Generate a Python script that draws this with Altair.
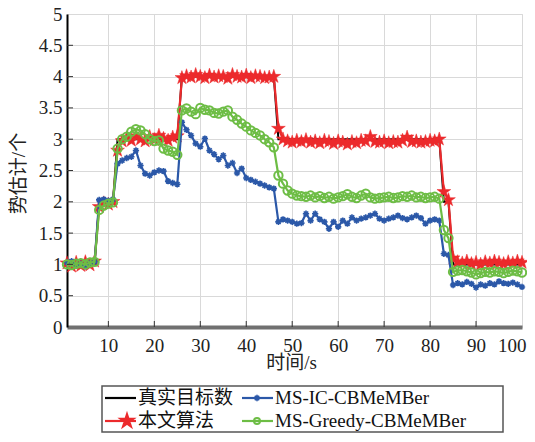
import altair as alt
import pandas as pd

# ---------------- data ----------------
time_s = list(range(1, 101))

truth = [1] * 7 + [2] * 4 + [3] * 14 + [4] * 21 + [3] * 36 + [2] * 2 + [1] * 16

proposed = (  # 本文算法
    [1.02, 0.97, 1.03, 0.98, 1.04, 0.99, 1.05]
    + [1.92, 1.98, 1.96, 2.0]
    + [2.82, 2.97, 3.02, 2.98, 3.05, 3.0, 2.97, 3.04, 2.99, 3.06, 3.01, 2.98, 3.03, 3.05]
    + [3.98, 4.01, 3.99, 4.03, 4.0, 3.98, 4.02, 3.99, 4.01, 4.0, 3.97, 4.03, 4.0, 3.99,
       4.02, 3.98, 4.01, 4.0, 3.98, 3.99, 4.0]
    + [3.17, 3.0, 2.97, 2.95, 2.98, 2.96, 2.99, 2.95, 2.97, 2.94, 2.98, 2.96, 2.93, 2.97,
       2.95, 2.92, 2.96, 2.94, 2.98, 2.97, 3.04, 2.96, 2.95, 2.97, 2.94, 2.96, 2.95, 2.98,
       3.03, 2.96, 2.97, 2.95, 2.96, 2.98, 2.97, 3.0]
    + [2.16, 2.03]
    + [1.1, 1.04, 1.02, 1.05, 1.01, 1.03, 1.0, 1.04, 1.02, 1.05, 1.03, 1.01, 1.04, 1.02,
       1.05, 1.03]
)

ms_ic = (  # MS-IC-CBMeMBer
    [1.03, 1.05, 0.98, 1.01, 0.97, 1.02, 1.04]
    + [2.03, 2.04, 2.02, 2.04]
    + [2.61, 2.66, 2.70, 2.72, 2.82, 2.58, 2.45, 2.42, 2.47, 2.50, 2.49, 2.33, 2.30, 2.28]
    + [3.27, 3.15, 3.06, 2.93, 2.88, 3.01, 2.82, 2.76, 2.68, 2.74, 2.58, 2.62, 2.46, 2.53,
       2.38, 2.35, 2.32, 2.29, 2.26, 2.23, 2.21]
    + [1.68, 1.72, 1.70, 1.68, 1.65, 1.66, 1.81, 1.70, 1.81, 1.72, 1.68, 1.57, 1.68, 1.60,
       1.70, 1.65, 1.75, 1.70, 1.73, 1.75, 1.78, 1.81, 1.73, 1.70, 1.73, 1.75, 1.78, 1.74,
       1.72, 1.75, 1.78, 1.74, 1.65, 1.70, 1.72, 1.70]
    + [1.17, 1.15]
    + [0.67, 0.70, 0.68, 0.72, 0.69, 0.63, 0.68, 0.66, 0.70, 0.68, 0.73, 0.70, 0.69, 0.71,
       0.68, 0.64]
)

ms_greedy = (  # MS-Greedy-CBMeMBer
    [1.0, 0.99, 1.01, 1.02, 1.0, 1.03, 1.04]
    + [1.87, 1.94, 1.97, 1.99]
    + [2.85, 3.0, 3.04, 3.12, 3.16, 3.14, 3.08, 3.0, 2.97, 2.98, 2.85, 2.82, 2.80, 2.75]
    + [3.46, 3.49, 3.44, 3.40, 3.50, 3.47, 3.46, 3.42, 3.41, 3.44, 3.46, 3.36, 3.31, 3.25,
       3.20, 3.14, 3.10, 3.06, 3.00, 2.95, 2.87]
    + [2.42, 2.29, 2.18, 2.13, 2.10, 2.09, 2.08, 2.10, 2.07, 2.09, 2.06, 2.08, 2.05, 2.07,
       2.09, 2.12, 2.08, 2.06, 2.10, 2.13, 2.07, 2.05, 2.06, 2.07, 2.08, 2.06, 2.07, 2.09,
       2.08, 2.10, 2.07, 2.08, 2.06, 2.07, 2.08, 2.05]
    + [1.55, 1.42]
    + [0.88, 0.90, 0.91, 0.89, 0.87, 0.84, 0.86, 0.88, 0.87, 0.89, 0.88, 0.86, 0.88, 0.90,
       0.89, 0.87]
)

series_keys = ["truth", "proposed", "ms_ic", "ms_greedy"]
legend_labels = ["真实目标数", "本文算法", "MS-IC-CBMeMBer", "MS-Greedy-CBMeMBer"]
x_tick_values = [10, 20, 30, 40, 50, 60, 70, 80, 90, 100]
y_tick_values = [0, 0.5, 1, 1.5, 2, 2.5, 3, 3.5, 4, 4.5, 5]

for s in (truth, proposed, ms_ic, ms_greedy):
    assert len(s) == 100, len(s)

rows = []
for key, vals in zip(series_keys, [truth, proposed, ms_ic, ms_greedy]):
    for t, v in zip(time_s, vals):
        rows.append({"t": t, "value": v, "series": key})
df = pd.DataFrame(rows)

# ---------------- styles ----------------
W, H = 455, 313
FONT = "Liberation Serif, Noto Sans CJK SC"
COL = {"truth": "#000000", "proposed": "#ec2a2c", "ms_ic": "#2b58a8", "ms_greedy": "#6dbd45"}
STAR = ("M0,-1L0.2245,-0.309L0.951,-0.309L0.363,0.118L0.588,0.809L0,0.382"
        "L-0.588,0.809L-0.363,0.118L-0.951,-0.309L-0.2245,-0.309Z")
ASTER = "M-1,0H1M0,-1V1M-0.7,-0.7L0.7,0.7M-0.7,0.7L0.7,-0.7"

X = alt.X("t:Q", scale=alt.Scale(domain=[1, 100], nice=False, zero=False),
          axis=alt.Axis(values=x_tick_values, title="时间/s", format="d",
                        grid=True, gridColor="#d9d9d9", gridWidth=1,
                        ticks=False, tickSize=0, labelPadding=9,
                        labelFlush=True, labelFlushOffset=4,
                        labelFont=FONT, labelFontSize=19, labelColor="#222",
                        titleFont=FONT, titleFontSize=19, titleFontWeight="normal",
                        titleColor="#222", titleX=224, titleY=35, titleBaseline="middle",
                        domainColor="#707070", domainWidth=4))
Y = alt.Y("value:Q", scale=alt.Scale(domain=[0, 5], nice=False),
          axis=alt.Axis(values=y_tick_values, title="势估计/个", format="~g",
                        grid=True, gridColor="#d9d9d9", gridWidth=1,
                        ticks=False, tickSize=0, labelPadding=5, labelFlush=False,
                        labelFont=FONT, labelFontSize=19, labelColor="#222",
                        titleFont=FONT, titleFontSize=19, titleFontWeight="normal",
                        titleColor="#222", titleX=-49, titleY=159, titleBaseline="middle",
                        titleAlign="center",
                        domainColor="#000000", domainWidth=2))

base = alt.Chart(df)


def sel(key):
    return base.transform_filter(alt.datum.series == key)


truth_line = sel("truth").mark_line(color=COL["truth"], strokeWidth=2).encode(x=X, y=Y)

prop_line = sel("proposed").mark_line(color=COL["proposed"], strokeWidth=2.2).encode(x=X, y=Y)
prop_pts = sel("proposed").mark_point(shape=STAR, size=210, filled=True, fill=COL["proposed"],
                                      stroke=COL["proposed"], strokeWidth=0.5,
                                      opacity=1).encode(x=X, y=Y)

ic_line = sel("ms_ic").mark_line(color=COL["ms_ic"], strokeWidth=2.2).encode(x=X, y=Y)
ic_pts = sel("ms_ic").mark_point(shape=ASTER, size=40, filled=False, stroke=COL["ms_ic"],
                                 strokeWidth=1.6, opacity=1).encode(x=X, y=Y)

gr_line = sel("ms_greedy").mark_line(color=COL["ms_greedy"], strokeWidth=2.2).encode(x=X, y=Y)
gr_pts = sel("ms_greedy").mark_point(shape="circle", size=70, filled=False,
                                     stroke=COL["ms_greedy"], strokeWidth=2,
                                     opacity=1).encode(x=X, y=Y)

# inward tick marks (same fields / axes as the data layers so the axes survive)
xt = alt.Chart(pd.DataFrame({"t": x_tick_values[:-1]})).mark_rule(
    color="#333", strokeWidth=1).encode(
    x=X, y=alt.value(H), y2=alt.value(H - 6))
yt = alt.Chart(pd.DataFrame({"value": y_tick_values[1:-1]})).mark_rule(
    color="#333", strokeWidth=1).encode(
    y=Y, x=alt.value(0), x2=alt.value(6))

# ---------------- legend (drawn below the plot) ----------------
one = pd.DataFrame({"k": [0]})
LBOX = dict(x=35, x2=436, y=372, y2=418)
legend_layers = [
    alt.Chart(one).mark_rect(fill="white", stroke="#555", strokeWidth=1.5).encode(
        x=alt.value(LBOX["x"]), x2=alt.value(LBOX["x2"]),
        y=alt.value(LBOX["y"]), y2=alt.value(LBOX["y2"]))
]
slots = {"truth": (38, 384), "proposed": (38, 407), "ms_ic": (175, 384), "ms_greedy": (175, 407)}
for key, label in zip(series_keys, legend_labels):
    sx, sy = slots[key]
    legend_layers.append(alt.Chart(one).mark_rule(color=COL[key], strokeWidth=2.2).encode(
        x=alt.value(sx), x2=alt.value(sx + 31), y=alt.value(sy)))
    if key == "proposed":
        legend_layers.append(alt.Chart(one).mark_point(
            shape=STAR, size=190, filled=True, fill=COL[key], stroke=COL[key],
            opacity=1).encode(x=alt.value(sx + 22), y=alt.value(sy)))
    elif key == "ms_ic":
        legend_layers.append(alt.Chart(one).mark_point(
            shape=ASTER, size=40, filled=False, stroke=COL[key], strokeWidth=1.6,
            opacity=1).encode(x=alt.value(sx + 15), y=alt.value(sy)))
    elif key == "ms_greedy":
        legend_layers.append(alt.Chart(one).mark_point(
            shape="circle", size=36, filled=False, stroke=COL[key], strokeWidth=2,
            opacity=1).encode(x=alt.value(sx + 15), y=alt.value(sy)))
    legend_layers.append(alt.Chart(one).mark_text(
        align="left", baseline="middle", font=FONT, fontSize=19, color="#111").encode(
        x=alt.value(sx + 33), y=alt.value(sy), text=alt.value(label)))

chart = alt.layer(
    truth_line, prop_line, prop_pts, ic_line, ic_pts, gr_line, gr_pts, xt, yt,
    *legend_layers
).properties(
    width=W, height=H,
    padding={"left": 59, "top": 6, "right": 5, "bottom": 106},
    autosize=alt.AutoSizeParams(type="none"),
).configure_view(
    stroke="#666", strokeWidth=1.5
).configure(background="white")

chart.save("out.html", embed_options={"renderer": "svg", "actions": False})
